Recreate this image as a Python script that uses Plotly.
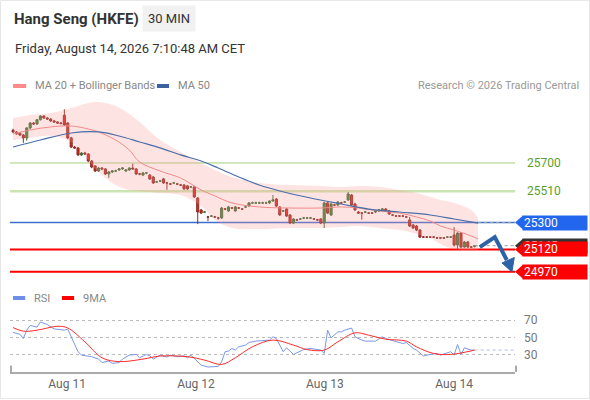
import plotly.graph_objects as go

# 30 min candles (index 0 = first bar shown)
opens = [25920, 25908, 25900, 25888, 25868, 25935, 25968, 25962, 25990, 26015,
         26002, 25995, 25982, 25975, 25968, 26020, 25968, 25868, 25807, 25801,
         25754, 25767, 25760, 25713, 25680, 25646, 25666, 25660, 25626, 25640,
         25646, 25653, 25660, 25646, 25653, 25666, 25660, 25626, 25619, 25633,
         25619, 25606, 25573, 25579, 25593, 25566, 25559, 25566, 25559, 25552,
         25552, 25546, 25539, 25539, 25465, 25385, 25371, 25338, 25344, 25338,
         25331, 25331, 25391, 25378, 25398, 25378, 25398, 25391, 25405, 25412,
         25432, 25432, 25432, 25432, 25432, 25432, 25445, 25458, 25405, 25378,
         25391, 25351, 25297, 25318, 25324, 25331, 25331, 25331, 25324, 25318,
         25324, 25297, 25432, 25351, 25418, 25418, 25432, 25438, 25452, 25485,
         25425, 25371, 25364, 25371, 25364, 25364, 25371, 25378, 25385, 25391,
         25378, 25351, 25344, 25344, 25344, 25338, 25318, 25284, 25277, 25250,
         25203, 25203, 25203, 25203, 25197, 25197, 25197, 25203, 25203, 25217,
         25150, 25230, 25136, 25170, 25136, 25140]
highs = [25930, 25915, 25905, 25895, 25940, 25975, 25975, 25995, 26020, 26020,
         26008, 26000, 25988, 25980, 25975, 26060, 25975, 25875, 25815, 25808,
         25772, 25775, 25765, 25720, 25686, 25672, 25672, 25665, 25645, 25652,
         25655, 25666, 25672, 25658, 25672, 25695, 25665, 25633, 25640, 25640,
         25626, 25612, 25580, 25586, 25600, 25573, 25566, 25573, 25566, 25559,
         25559, 25552, 25546, 25546, 25470, 25392, 25378, 25345, 25351, 25345,
         25338, 25405, 25398, 25412, 25405, 25412, 25405, 25398, 25412, 25438,
         25440, 25440, 25440, 25440, 25440, 25450, 25485, 25465, 25410, 25385,
         25398, 25358, 25330, 25325, 25331, 25338, 25338, 25338, 25331, 25325,
         25330, 25440, 25440, 25432, 25425, 25445, 25440, 25445, 25505, 25492,
         25432, 25378, 25371, 25378, 25371, 25371, 25385, 25392, 25398, 25398,
         25385, 25358, 25351, 25351, 25351, 25345, 25338, 25290, 25284, 25257,
         25210, 25210, 25210, 25210, 25203, 25203, 25203, 25210, 25210, 25270,
         25235, 25237, 25177, 25177, 25143, 25150]
lows = [25900, 25890, 25880, 25835, 25850, 25925, 25955, 25955, 25985, 25995,
        25988, 25975, 25970, 25962, 25958, 25950, 25860, 25800, 25795, 25748,
        25748, 25755, 25705, 25665, 25640, 25640, 25652, 25620, 25600, 25632,
        25640, 25648, 25655, 25640, 25648, 25655, 25620, 25618, 25612, 25625,
        25586, 25560, 25566, 25572, 25560, 25520, 25552, 25559, 25552, 25545,
        25520, 25520, 25532, 25465, 25290, 25358, 25364, 25310, 25338, 25331,
        25320, 25325, 25384, 25372, 25391, 25372, 25391, 25384, 25398, 25405,
        25425, 25425, 25425, 25425, 25425, 25425, 25440, 25405, 25345, 25371,
        25338, 25290, 25290, 25311, 25318, 25324, 25324, 25324, 25318, 25311,
        25290, 25264, 25358, 25345, 25411, 25412, 25425, 25432, 25445, 25412,
        25378, 25358, 25320, 25364, 25358, 25358, 25364, 25371, 25378, 25371,
        25351, 25344, 25338, 25338, 25338, 25331, 25270, 25257, 25243, 25197,
        25197, 25197, 25197, 25197, 25190, 25190, 25190, 25197, 25197, 25140,
        25116, 25130, 25130, 25130, 25130, 25133]
closes = [25908, 25895, 25888, 25868, 25935, 25968, 25962, 25990, 26015, 26002,
          25995, 25982, 25975, 25968, 25965, 25955, 25868, 25807, 25801, 25754,
          25767, 25760, 25713, 25673, 25646, 25666, 25660, 25626, 25640, 25646,
          25646, 25660, 25666, 25653, 25666, 25660, 25626, 25626, 25633, 25633,
          25593, 25566, 25573, 25579, 25566, 25566, 25559, 25566, 25559, 25552,
          25526, 25526, 25539, 25472, 25371, 25364, 25371, 25338, 25344, 25338,
          25331, 25398, 25391, 25405, 25398, 25405, 25398, 25391, 25405, 25432,
          25432, 25432, 25432, 25432, 25432, 25445, 25452, 25411, 25351, 25378,
          25344, 25297, 25324, 25318, 25324, 25331, 25331, 25331, 25324, 25318,
          25297, 25432, 25364, 25425, 25418, 25438, 25432, 25438, 25492, 25418,
          25385, 25364, 25364, 25371, 25364, 25364, 25378, 25385, 25391, 25378,
          25358, 25351, 25344, 25344, 25344, 25338, 25277, 25264, 25250, 25203,
          25203, 25203, 25203, 25203, 25197, 25197, 25197, 25203, 25203, 25150,
          25230, 25136, 25170, 25136, 25136, 25145]
bar_idx = list(range(len(closes)))

# day starts on the bar index scale
day_ticks = [15.8, 53.5, 91.2, 129.0]
day_labels = ["Aug 11", "Aug 12", "Aug 13", "Aug 14"]

# MA 20 + Bollinger bands, read at these bars
bb_idx = [0, 5, 11, 17, 22, 25, 30, 34, 37, 43, 49, 55, 59, 64, 72, 81, 90, 96,
          101, 107, 113, 118, 122, 125, 129, 134, 136]
bb_upper = [26002, 26022, 26036, 26069, 26103, 26109, 26082, 26029, 25975, 25854,
            25774, 25700, 25653, 25606, 25566, 25552, 25546, 25539, 25546, 25539,
            25519, 25499, 25472, 25452, 25432, 25385, 25331]
ma20 = [25895, 25921, 25942, 25948, 25928, 25908, 25854, 25787, 25707, 25646,
        25599, 25519, 25479, 25432, 25405, 25398, 25398, 25405, 25398, 25378,
        25364, 25338, 25311, 25277, 25250, 25210, 25190]
bb_lower = [25854, 25868, 25881, 25841, 25720, 25640, 25552, 25519, 25512, 25499,
            25485, 25411, 25318, 25264, 25257, 25264, 25264, 25271, 25277, 25264,
            25250, 25224, 25197, 25157, 25123, 25116, 25116]

ma50_idx = [0, 8, 17, 25, 31, 37, 43, 49, 55, 60, 66, 72, 78, 87, 96, 104, 113,
            122, 129, 136]
ma50 = [25807, 25854, 25901, 25908, 25881, 25841, 25801, 25754, 25713, 25666,
        25606, 25552, 25512, 25465, 25425, 25391, 25371, 25351, 25324, 25297]

# RSI and its 9 period average
rsi_idx = [0, 2, 3, 4, 5, 7, 8, 10, 12, 14, 15, 16, 18, 19, 20, 23, 25, 26, 28,
           29, 31, 32, 34, 36, 37, 39, 40, 41, 43, 45, 46, 48, 50, 51, 52, 53,
           55, 57, 59, 60, 61, 62, 63, 64, 65, 66, 68, 69, 71, 73, 75, 76, 77,
           79, 80, 82, 84, 85, 87, 90, 91, 92, 93, 95, 96, 97, 99, 100, 102, 103,
           106, 108, 109, 112, 114, 115, 117, 118, 120, 121, 124, 125, 128, 129,
           130, 131, 132, 134, 135]
rsi = [55.8, 53.8, 48.8, 58.5, 64, 62, 68, 65, 60, 59, 58.5, 59.6, 41, 33.5,
       29.6, 27.7, 25, 21, 22.7, 20, 20.8, 25, 29.6, 30.4, 26.5, 30.4, 28.8, 25,
       29.6, 27.3, 29.6, 27.7, 28.8, 26.5, 29.6, 25.8, 18, 15.8, 15.8, 16.5,
       21.9, 33.5, 34.2, 37.3, 35.4, 39.2, 41.2, 44.2, 45.8, 46.5, 47, 50.8,
       48.8, 33.5, 38, 30.4, 34.2, 36, 37.3, 35.4, 31.5, 58.5, 49.6, 56.5,
       56.5, 58.5, 61, 50.8, 47, 45.8, 45.8, 50.8, 48.8, 45, 43, 44.2, 37.3,
       35.4, 28.5, 29.6, 31.5, 29.6, 33.5, 29.6, 41.9, 30.4, 38, 35.4, 35.4]
rsi_ma_idx = [0, 3, 7, 13, 16, 21, 26, 31, 38, 43, 51, 56, 61, 65, 70, 76, 82,
              86, 91, 95, 100, 104, 109, 115, 118, 123, 128, 135]
rsi_ma = [61.5, 57.3, 58.5, 63, 61, 45, 26.5, 22, 25, 28.5, 27.7, 23.8, 18.8,
          26.5, 39.2, 47, 41.2, 36, 35.4, 45, 55.4, 52.7, 48, 45.8, 39.2, 31.5,
          30.4, 35.4]

# key levels
resistances = [25700, 25510]
pivot = 25300
last_price = 25145
supports = [25120, 24970]

# expected path (bar index, price)
arrow_idx = [136.5, 140.9, 144.4]
arrow_px = [25136, 25203, 25049]
head_idx = [145.9, 143.0, 146.6]
head_px = [24969, 25029, 25066]

x_end = 146.8
FONT = "Roboto"

fig = go.Figure()

fig.add_trace(go.Scatter(x=bb_idx, y=bb_upper, mode="lines", line=dict(width=0, shape="spline"),
                         hoverinfo="skip", xaxis="x", yaxis="y"))
fig.add_trace(go.Scatter(x=bb_idx, y=bb_lower, mode="lines", line=dict(width=0, shape="spline"),
                         fill="tonexty", fillcolor="rgba(250,150,150,0.27)",
                         hoverinfo="skip", xaxis="x", yaxis="y"))
fig.add_trace(go.Scatter(x=bb_idx, y=ma20, mode="lines",
                         line=dict(color="#f28a8a", width=1, shape="spline"),
                         hoverinfo="skip", xaxis="x", yaxis="y"))
fig.add_trace(go.Scatter(x=ma50_idx, y=ma50, mode="lines",
                         line=dict(color="#4a6ea8", width=1.2, shape="spline"),
                         hoverinfo="skip", xaxis="x", yaxis="y"))
# dotted extensions to the right edge
fig.add_trace(go.Scatter(x=[ma50_idx[-1], x_end], y=[pivot, pivot], mode="lines",
                         line=dict(color="#9aa6b8", width=1, dash="dot"),
                         hoverinfo="skip", xaxis="x", yaxis="y"))
fig.add_trace(go.Scatter(x=[bar_idx[-1], x_end], y=[last_price, last_price], mode="lines",
                         line=dict(color="#999999", width=1, dash="dot"),
                         hoverinfo="skip", xaxis="x", yaxis="y"))

fig.add_trace(go.Candlestick(
    x=bar_idx, open=opens, high=highs, low=lows, close=closes,
    increasing=dict(line=dict(color="#3d6b35", width=1), fillcolor="#2f8a2f"),
    decreasing=dict(line=dict(color="#8e2a22", width=1), fillcolor="#e8201c"),
    whiskerwidth=0, hoverinfo="skip", xaxis="x", yaxis="y"))

fig.add_trace(go.Scatter(x=rsi_idx, y=rsi, mode="lines",
                         line=dict(color="#7b98e6", width=1),
                         hoverinfo="skip", xaxis="x", yaxis="y2"))
fig.add_trace(go.Scatter(x=rsi_ma_idx, y=rsi_ma, mode="lines",
                         line=dict(color="#ff2a2a", width=1, shape="spline"),
                         hoverinfo="skip", xaxis="x", yaxis="y2"))
fig.add_trace(go.Scatter(x=[rsi_idx[-1], x_end], y=[rsi[-1], rsi[-1]], mode="lines",
                         line=dict(color="#a9bdf0", width=1, dash="dot"),
                         hoverinfo="skip", xaxis="x", yaxis="y2"))

shapes = []
annotations = []

# horizontal level lines
level_lines = [(resistances[0], "#a3d07c", 1), (resistances[1], "#cbe5b0", 2.5),
               (pivot, "#3d6fd0", 1.5), (supports[0], "#ff0000", 2), (supports[1], "#ff0000", 2)]
for lv, col, w in level_lines:
    shapes.append(dict(type="line", xref="paper", x0=0, x1=1, yref="y", y0=lv, y1=lv,
                       line=dict(color=col, width=w), layer="below"))

# green resistance labels
for lv in resistances:
    annotations.append(dict(xref="paper", x=1, xanchor="left", xshift=10, yref="y", y=lv,
                            text=str(lv), showarrow=False,
                            font=dict(family=FONT, size=12, color="#5aa02c")))

# boxed labels (drawn in order: later ones on top)
boxed = [(pivot, "#2266ee"), (last_price, "#333333"), (supports[0], "#ff0000"),
         (supports[1], "#ff0000")]
for lv, col in boxed:
    shapes.append(dict(type="path", xref="paper", xsizemode="pixel", xanchor=1,
                       yref="y", ysizemode="pixel", yanchor=lv,
                       path="M0,0 L8,7 L8,-7 Z", fillcolor=col, line=dict(width=0)))
    annotations.append(dict(xref="paper", x=1, xanchor="left", xshift=7, yref="y", y=lv,
                            text=str(lv), showarrow=False, bgcolor=col, width=62, height=12,
                            borderpad=1, align="left",
                            font=dict(family=FONT, size=12, color="white")))

# forecast arrow
shapes.append(dict(type="path", xref="x", yref="y",
                   path="M{},{} L{},{} L{},{}".format(arrow_idx[0], arrow_px[0], arrow_idx[1],
                                                     arrow_px[1], arrow_idx[2], arrow_px[2]),
                   line=dict(color="#2d62a6", width=4)))
shapes.append(dict(type="path", xref="x", yref="y",
                   path="M{},{} L{},{} L{},{} Z".format(head_idx[0], head_px[0], head_idx[1],
                                                       head_px[1], head_idx[2], head_px[2]),
                   fillcolor="#2d62a6", line=dict(color="#2d62a6", width=1)))

# bottom axis end ticks
for xp in [0.002, 1.002]:
    shapes.append(dict(type="line", xref="paper", yref="paper", x0=xp, x1=xp, y0=0.07, y1=0.086,
                       line=dict(color="#aaaaaa", width=2)))

# outer frame
shapes.append(dict(type="rect", xref="paper", yref="paper", x0=-0.0188, x1=1.1475,
                   y0=0.004, y1=0.999, line=dict(color="#e6e6e6", width=1)))

# legend swatches
swatches = [(0.006, 0.032, 0.785, "#ff8a8a"), (0.291, 0.315, 0.785, "#3a62a0"),
            (0.006, 0.030, 0.255, "#6f8fe6"), (0.103, 0.127, 0.255, "#ff0000")]
for x0, x1, yc, col in swatches:
    shapes.append(dict(type="rect", xref="paper", yref="paper", x0=x0, x1=x1,
                       y0=yc - 0.005, y1=yc + 0.005, fillcolor=col, line=dict(width=0)))

# header texts
annotations += [
    dict(xref="paper", yref="paper", x=0.004, y=0.9525, xanchor="left", yanchor="middle",
         text="<b>Hang Seng (HKFE)</b>", showarrow=False,
         font=dict(family=FONT, size=15, color="#333333")),
    dict(xref="paper", yref="paper", x=0.3149, y=0.9525, xanchor="center", yanchor="middle",
         text="30 MIN", showarrow=False, bgcolor="#f1f1f1", borderpad=5,
         font=dict(family=FONT, size=13, color="#333333")),
    dict(xref="paper", yref="paper", x=0.006, y=0.88, xanchor="left", yanchor="middle",
         text="Friday, August 14, 2026 7:10:48 AM CET", showarrow=False,
         font=dict(family=FONT, size=13, color="#333333")),
    dict(xref="paper", yref="paper", x=0.0455, y=0.785, xanchor="left", yanchor="middle",
         text="MA 20 + Bollinger Bands", showarrow=False,
         font=dict(family=FONT, size=11, color="#888888")),
    dict(xref="paper", yref="paper", x=0.329, y=0.785, xanchor="left", yanchor="middle",
         text="MA 50", showarrow=False, font=dict(family=FONT, size=11, color="#888888")),
    dict(xref="paper", yref="paper", x=1.1307, y=0.785, xanchor="right", yanchor="middle",
         text="Research © 2026 Trading Central", showarrow=False,
         font=dict(family=FONT, size=11, color="#999999")),
    dict(xref="paper", yref="paper", x=0.043, y=0.255, xanchor="left", yanchor="middle",
         text="RSI", showarrow=False, font=dict(family=FONT, size=11, color="#888888")),
    dict(xref="paper", yref="paper", x=0.141, y=0.255, xanchor="left", yanchor="middle",
         text="9MA", showarrow=False, font=dict(family=FONT, size=11, color="#888888")),
]

fig.update_layout(
    width=590, height=400,
    margin=dict(l=10, r=75, t=0, b=0),
    paper_bgcolor="white", plot_bgcolor="white",
    showlegend=False,
    boxgap=0.12,
    xaxis=dict(range=[-0.9, x_end], anchor="y2", tickvals=day_ticks, ticktext=day_labels,
               showgrid=False, zeroline=False, showline=True, linecolor="#aaaaaa", linewidth=2,
               ticks="", tickfont=dict(family=FONT, size=12, color="#666666"),
               rangeslider=dict(visible=False)),
    yaxis=dict(domain=[0.3, 0.7625], range=[24915, 26156], showgrid=False, zeroline=False,
               showticklabels=False, anchor="x"),
    yaxis2=dict(domain=[0.07, 0.2425], range=[10, 90], side="right", anchor="x",
                tickvals=[30, 50, 70], showgrid=True, gridcolor="#bbbbbb", griddash="dot",
                zeroline=False, ticks="", ticklabelstandoff=8,
                tickfont=dict(family=FONT, size=12, color="#777777")),
    shapes=shapes,
    annotations=annotations,
)

# page body has a default margin; remove it so the figure sits at the window corner
fig.write_html("out.html", config={"displayModeBar": False},
               post_script="document.body.style.margin='0';")
